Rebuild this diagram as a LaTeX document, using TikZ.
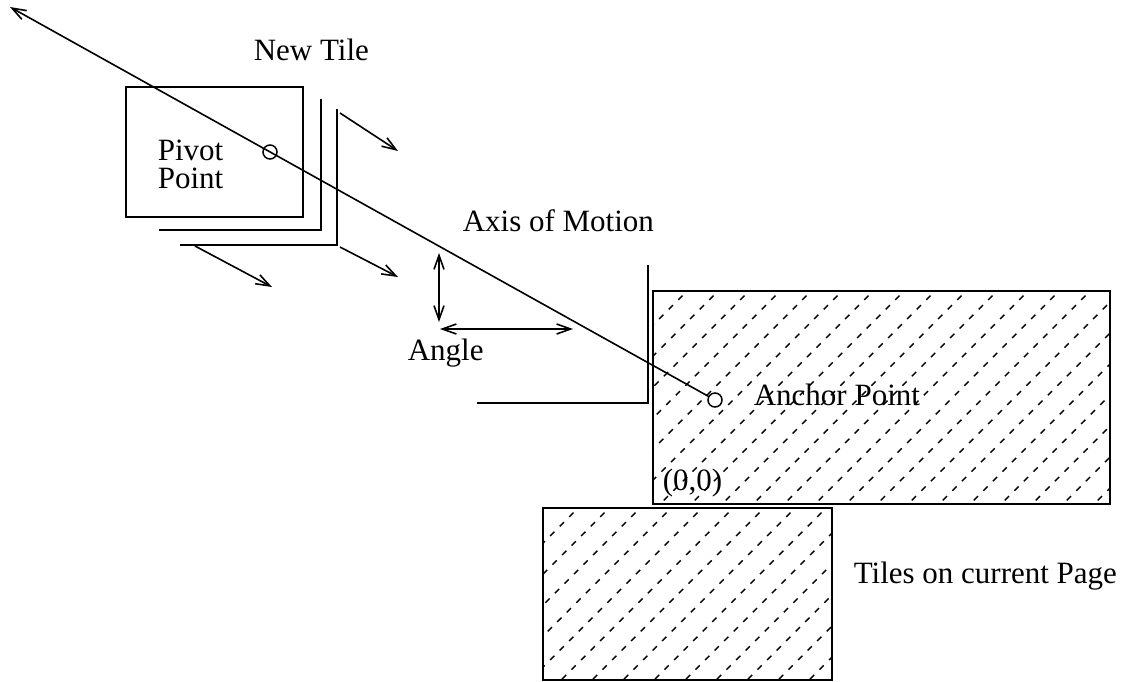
\documentclass[tikz,border=0pt]{standalone}
\usepackage{fontspec}
\setmainfont{Liberation Serif}
\usetikzlibrary{arrows.meta}
\begin{document}
\begin{tikzpicture}[x=1pt,y=-1pt,
  line width=1.6pt,
  barb/.style={-{Straight Barb[length=14pt,width=10pt]}},
  dbarb/.style={{Straight Barb[length=14pt,width=10pt]}-{Straight Barb[length=14pt,width=10pt]}},
  hatch/.style={line width=1.4pt,dash pattern=on 6pt off 7.5pt},
  lbl/.style={inner sep=0pt,anchor=base west,font=\fontsize{31}{28}\selectfont},
  pt/.style={circle,draw,line width=1.5pt,minimum size=14pt,inner sep=0pt}]
\useasboundingbox (0,0) rectangle (1123,681);
% new tile and moving copies
\draw (126,87) rectangle (303,217);
\draw (159,230) -- (321,230) -- (321,99);
\draw (180,245) -- (337,245) -- (337,109);
\draw[barb] (340,113) -- (398,151);
\draw[barb] (340,247) -- (398,277);
\draw[barb] (195,246) -- (272,287);
% tiles on page
\draw (653,291) rectangle (1110,504);
\begin{scope}
\clip (653,291) rectangle (1110,504);
\foreach \c in {947,978,...,1620} {\draw[hatch] (\c-286,286) -- (\c-510,510);}
\end{scope}
\draw (543,508) rectangle (832,680);
\begin{scope}
\clip (543,508) rectangle (832,680);
\foreach \c in {1055,1086,...,1520} {\draw[hatch] (\c-503,503) -- (\c-685,685);}
\end{scope}
% bracket near anchor
\draw (477,403) -- (648,403) -- (648,265);
% angle arrows
\draw[dbarb] (439,253) -- (439,322);
\draw[dbarb] (440,329) -- (573,329);
% points and axis
\node[pt] (pivot) at (270,152) {};
\node[pt] (anchor) at (715,400) {};
\coordinate (tip) at (10,7);
\draw[barb] (anchor) -- (tip);
% labels
\node[lbl] (newtile) at (253,60) {New Tile};
\node[lbl] (pivotl) at (157,160) {Pivot};
\node[lbl] (pointl) at (157,188) {Point};
\node[lbl] (axis) at (462,231) {Axis of Motion};
\node[lbl] (angle) at (407,360) {Angle};
\node[lbl] (anchorl) at (753,405) {Anchor Point};
\node[lbl] (origin) at (662,490) {(0,0)};
\node[lbl] (tiles) at (853,583) {Tiles on current Page};
\end{tikzpicture}
\end{document}
